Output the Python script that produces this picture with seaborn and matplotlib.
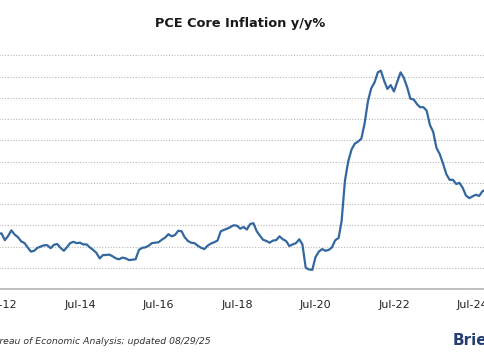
import pandas as pd
import matplotlib
matplotlib.use('Agg')
import matplotlib.pyplot as plt
import matplotlib.dates as mdates
import seaborn as sns


# monthly core PCE y/y %, starting Jun-2012
start_month = '2012-06-01'
values_2012 = [1.80, 1.81, 1.65, 1.75, 1.88, 1.78, 1.72]
values_2013 = [1.62, 1.58, 1.48, 1.38, 1.40, 1.47, 1.50, 1.53, 1.53, 1.46, 1.54, 1.56]
values_2014 = [1.47, 1.40, 1.48, 1.58, 1.61, 1.58, 1.59, 1.55, 1.55, 1.48, 1.42, 1.35]
values_2015 = [1.22, 1.30, 1.30, 1.31, 1.27, 1.22, 1.20, 1.24, 1.22, 1.18, 1.19, 1.20]
values_2016 = [1.42, 1.47, 1.48, 1.52, 1.58, 1.59, 1.60, 1.66, 1.71, 1.79, 1.74, 1.77]
values_2017 = [1.87, 1.86, 1.72, 1.63, 1.59, 1.58, 1.52, 1.47, 1.44, 1.52, 1.57, 1.60]
values_2018 = [1.64, 1.86, 1.89, 1.92, 1.96, 2.00, 1.99, 1.92, 1.96, 1.90, 2.03, 2.05]
values_2019 = [1.86, 1.75, 1.66, 1.63, 1.59, 1.64, 1.65, 1.74, 1.67, 1.63, 1.51, 1.55]
values_2020 = [1.58, 1.67, 1.55, 1.00, 0.96, 0.95, 1.25, 1.38, 1.44, 1.40, 1.42, 1.48]
values_2021 = [1.65, 1.70, 2.10, 3.05, 3.50, 3.78, 3.92, 3.97, 4.04, 4.40, 4.92, 5.22]
values_2022 = [5.36, 5.60, 5.64, 5.40, 5.21, 5.30, 5.15, 5.38, 5.60, 5.47, 5.25, 4.98]
values_2023 = [4.96, 4.85, 4.78, 4.78, 4.70, 4.36, 4.20, 3.82, 3.67, 3.45, 3.20, 3.07]
values_2024 = [3.07, 2.97, 3.00, 2.88, 2.70, 2.64, 2.68, 2.72, 2.69, 2.80, 2.84, 2.90]
values_2025 = [2.70, 2.90, 2.70, 2.60, 2.75, 2.80, 2.88]

tick_years = [2012, 2014, 2016, 2018, 2020, 2022, 2024]

title = 'PCE Core Inflation y/y%'
source = 'Source: Bureau of Economic Analysis; updated 08/29/25'
brand = 'Briefing'

line_color = '#32689f'
W, H = 485, 360


def build_frame():
    core = (values_2012 + values_2013 + values_2014 + values_2015 + values_2016 + values_2017 +
            values_2018 + values_2019 + values_2020 + values_2021 + values_2022 + values_2023 +
            values_2024 + values_2025)
    dates = pd.date_range(start_month, periods=len(core), freq='MS')
    return pd.DataFrame({'date': dates, 'core': core})


def plot(df):
    sns.set_style('white')
    plt.rcParams['font.family'] = ['DejaVu Sans']

    fig = plt.figure(figsize=(W / 100, H / 100), dpi=100)
    fig.patch.set_facecolor('white')

    # plot area runs past both edges of the picture (it is a crop)
    left_px, right_px = -30, 530
    bottom_px, top_px = 289, 54.5
    ax = fig.add_axes([left_px / W, 1 - bottom_px / H,
                       (right_px - left_px) / W, (bottom_px - top_px) / H])

    sns.lineplot(data=df, x='date', y='core', ax=ax, color=line_color, linewidth=1.6)

    # Jul-12 sits at about 1.5 px, two years take about 78.5 px
    ref = mdates.date2num(pd.Timestamp('2012-07-01'))
    px_per_day = 78.5 / 730.5
    ax.set_xlim(ref - (1.5 - left_px) / px_per_day, ref + (right_px - 1.5) / px_per_day)
    ax.set_ylim(0.5, 6.02)

    ax.set_xticks([pd.Timestamp(f'{y}-07-01') for y in tick_years])
    ax.xaxis.set_major_formatter(mdates.DateFormatter('%b-%y'))
    ax.set_yticks([0.5 + 0.5 * i for i in range(12)])
    ax.tick_params(axis='x', length=0, pad=8, labelsize=8, labelcolor='#222222')
    ax.tick_params(axis='y', length=0, labelleft=False)
    ax.set_xlabel('')
    ax.set_ylabel('')

    ax.grid(axis='y', color='#b8b8b8', linestyle=(0, (1, 1.5)), linewidth=0.8)
    ax.grid(axis='x', visible=False)
    for side in ['top', 'left', 'right']:
        ax.spines[side].set_visible(False)
    ax.spines['bottom'].set_color('#b5b5b5')
    ax.spines['bottom'].set_linewidth(1.2)

    fig.text(240 / W, 1 - 23 / H, title, ha='center', va='center',
             fontsize=9.3, fontweight='bold', color='#1a1a1a')
    fig.text(211 / W, 1 - 342 / H, source, ha='right', va='center',
             fontsize=6.7, style='italic', color='#333333')
    fig.text(453 / W, 1 - 340 / H, brand, ha='left', va='center',
             fontsize=11, fontweight='bold', color='#253f73')

    fig.savefig('out.png', dpi=100)


def main():
    df = build_frame()
    plot(df)


if __name__ == '__main__':
    main()
